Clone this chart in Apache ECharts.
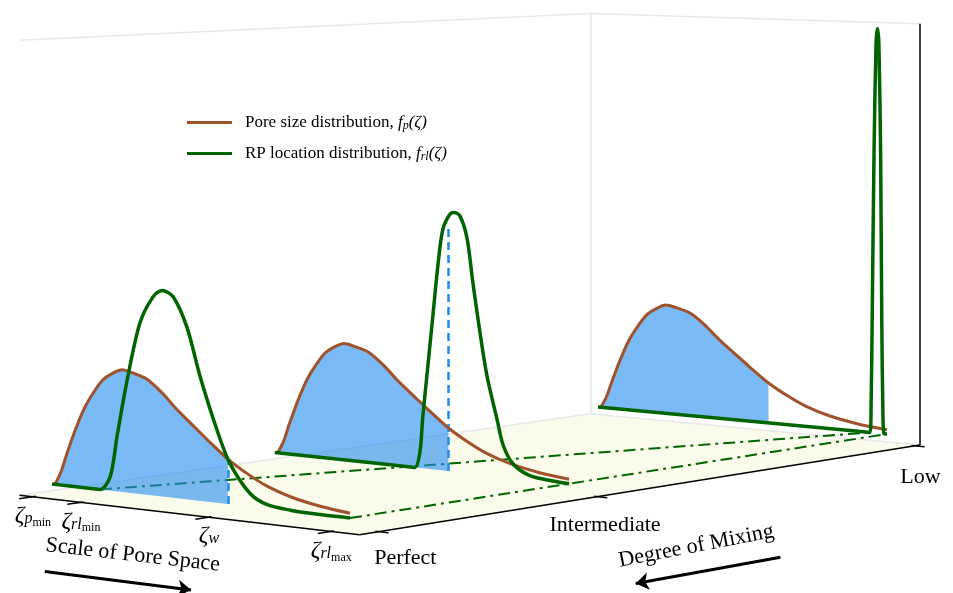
<!doctype html>
<html lang="en">
<head>
<meta charset="utf-8">
<title>pore space mixing schematic</title>
<script src="https://cdn.jsdelivr.net/npm/echarts@6/dist/echarts.min.js"></script>
<style>
  html, body { margin: 0; padding: 0; background: #fff; }
  #chart { width: 953px; height: 593px; }
</style>
</head>
<body>
<div id="chart"></div>
<script>
// ---- data ----
// pore size distribution f_p(zeta), the same curve on every panel
var poreZeta = [0.01, 0.03, 0.05, 0.08, 0.11, 0.14, 0.17, 0.2, 0.235, 0.27, 0.32, 0.37, 0.42, 0.47, 0.52, 0.59, 0.66, 0.72, 0.8, 0.9, 1.0];
var poreF    = [0, 0.13, 0.32, 0.58, 0.8, 0.96, 1.09, 1.16, 1.21, 1.19, 1.14, 1.02, 0.87, 0.74, 0.61, 0.44, 0.31, 0.22, 0.14, 0.08, 0.045];

// RP location distribution f_rl(zeta), one per degree of mixing
var rpZetaPerfect = [0, 0.13, 0.161, 0.195, 0.218, 0.252, 0.295, 0.339, 0.369, 0.406, 0.453, 0.497, 0.554, 0.597, 0.664, 0.72, 0.8, 0.9, 1.0];
var rpFPerfect    = [0, 0, 0, 0.135, 0.54, 1.11, 1.69, 1.96, 2.03, 1.98, 1.69, 1.22, 0.71, 0.40, 0.13, 0.04, 0.01, 0, 0];
var rpZetaInter = [0, 0.44, 0.476, 0.493, 0.503, 0.52, 0.537, 0.554, 0.571, 0.595, 0.609, 0.629, 0.653, 0.673, 0.697, 0.721, 0.755, 0.776, 0.81, 0.867, 0.945, 1.0];
var rpFInter    = [0, 0, 0, 0.16, 0.53, 1.05, 1.57, 2.09, 2.47, 2.63, 2.65, 2.62, 2.40, 1.95, 1.45, 1.01, 0.58, 0.32, 0.14, 0.04, 0.01, 0];
var rpZetaLow = [0, 0.9, 0.941, 0.945, 0.949, 0.955, 0.962, 0.967, 0.972, 0.978, 0.982, 0.986, 0.99, 1.0];
var rpFLow    = [0, 0, 0, 0.3, 1.3, 3.0, 4.2, 4.38, 4.2, 3.0, 1.2, 0.2, 0, 0];

var mixingLevels = [0, 0.408, 1];
var mixingLabels = ['Perfect', 'Intermediate', 'Low'];
var rlMin = [0.161, 0.476, 0.941];
var rlMax = [1, 1, 1];
var zetaW = 0.59;
var dashTop = [0.42, 2.48, 0];

var zetaTicks = [0, 0.161, 0.59, 1];
var zetaTickLabels = ['{z|ζ}{s|p}{ss|min}', '{z|ζ}{s|rl}{ss|min}', '{z|ζ}{s|w}', '{z|ζ}{s|rl}{ss|max}'];

// ---- layout ----
var SERIF = '"Liberation Serif", "DejaVu Serif", serif';
var BROWN = '#a0522d', GREEN = '#006400', FILL = 'rgba(33,140,240,0.6)';
var Z_LO = -0.045, Z_HI = 1.095, M_LO = -0.035, M_HI = 1.01, F_LO = -0.1, F_HI = 4.44;
var mixLabelOffset = [[27, 27], [8, 29], [6, 31]];

// oblique view: zeta runs along the front, mixing goes back, f goes up
function proj(z, m, f) {
    var ux = 298 - 9 * m, uy = 34 - 7 * m;
    var s = 1 + 0.04 * z - 0.115 * m;
    return [52 + 546 * m + ux * z, 484 - 77 * m + uy * z - 100 * s * f];
}

function polygonSeries(pts, style) {
    return {
        type: 'custom', silent: true, data: [[0, 0]],
        renderItem: function (params, api) {
            return {type: 'polygon', shape: {points: pts.map(function (p) { return api.coord(p); })}, style: style};
        }
    };
}

function segSeries(segs, color, width, type, symbol) {
    return {
        type: 'lines', coordinateSystem: 'cartesian2d', silent: true,
        data: segs.map(function (s) { return {coords: s}; }),
        symbol: symbol || 'none', symbolSize: 13,
        lineStyle: {color: color, width: width, type: type || 'solid', opacity: 1}
    };
}

function curve(zs, fs, m, color, width, name) {
    return {
        type: 'line', name: name, color: color, silent: true,
        data: zs.map(function (z, i) { return proj(z, m, fs[i]); }),
        symbol: 'none', smooth: 0.3,
        lineStyle: {color: color, width: width}
    };
}

var series = [];

// floor
series.push(polygonSeries([proj(Z_LO, M_LO, F_LO), proj(Z_HI, M_LO, F_LO), proj(Z_HI, M_HI, F_LO), proj(Z_LO, M_HI, F_LO)],
    {fill: '#fbfbec', stroke: null}));

// pane edges
series.push(segSeries([
    [proj(Z_LO, M_LO, F_HI), proj(Z_LO, M_HI, F_HI)],
    [proj(Z_LO, M_HI, F_LO), proj(Z_LO, M_HI, F_HI)],
    [proj(Z_LO, M_HI, F_HI), proj(Z_HI, M_HI, F_HI)],
    [proj(Z_LO, M_LO, F_LO), proj(Z_LO, M_HI, F_LO)],
    [proj(Z_LO, M_HI, F_LO), proj(Z_HI, M_HI, F_LO)]
], '#e8e8e8', 1.5));

// dash-dot lines joining rl_min and rl_max across the panels
series.push(segSeries([
    [proj(rlMin[0], mixingLevels[0], 0), proj(rlMin[2], mixingLevels[2], 0)],
    [proj(rlMax[0], mixingLevels[0], 0), proj(rlMax[2], mixingLevels[2], 0)]
], GREEN, 2, [12, 5, 3, 5]));

var rpZ = [rpZetaPerfect, rpZetaInter, rpZetaLow];
var rpF = [rpFPerfect, rpFInter, rpFLow];

// panels back to front
[2, 1, 0].forEach(function (k) {
    var m = mixingLevels[k];
    var fillPts = [proj(0, m, 0)];
    poreZeta.forEach(function (z, i) { if (z <= zetaW) fillPts.push(proj(z, m, poreF[i])); });
    fillPts.push(proj(zetaW, m, 0));
    series.push(polygonSeries(fillPts, {fill: FILL, stroke: null}));
    series.push(curve(poreZeta, poreF, m, BROWN, 3, 'Pore size distribution'));
    series.push(curve(rpZ[k], rpF[k], m, GREEN, 3.5, 'RP location distribution'));
    if (dashTop[k] > 0) {
        series.push(segSeries([[proj(zetaW, m, 0), proj(zetaW, m, dashTop[k])]], '#1e8cf0', 2.5, [8, 5]));
    }
});

// axes
series.push(segSeries([
    [proj(Z_LO, M_LO, F_LO), proj(Z_HI, M_LO, F_LO)],
    [proj(Z_HI, M_LO, F_LO), proj(Z_HI, M_HI, F_LO)],
    [proj(Z_HI, M_HI, F_LO), proj(Z_HI, M_HI, F_HI)]
], '#000', 1.5));

// ticks
var tickSegs = zetaTicks.map(function (z) { return [proj(z, M_LO + 0.005, F_LO), proj(z, M_LO - 0.025, F_LO)]; });
mixingLevels.forEach(function (m) { tickSegs.push([proj(Z_HI - 0.01, m, F_LO), proj(Z_HI + 0.035, m, F_LO)]); });
series.push(segSeries(tickSegs, '#000', 1.5));

// direction arrows
series.push(segSeries([[proj(0.04, M_LO, -0.83), proj(0.53, M_LO, -0.83)]], '#000', 3, 'solid', ['none', 'arrow']));
series.push(segSeries([[proj(Z_HI, 0.75, -1.04), proj(Z_HI, 0.48, -1.04)]], '#000', 3, 'solid', ['none', 'arrow']));

// text labels
var labelItems = [];
zetaTicks.forEach(function (z, i) {
    labelItems.push({value: proj(z, M_LO, F_LO), label: {formatter: zetaTickLabels[i], offset: [0, 19]}});
});
mixingLevels.forEach(function (m, i) {
    labelItems.push({value: proj(Z_HI, m, F_LO), label: {formatter: '{t|' + mixingLabels[i] + '}', offset: mixLabelOffset[i]}});
});
labelItems.push({value: proj(0.335, M_LO, -0.56), label: {formatter: '{t|Scale of Pore Space}', rotate: -6.5}});
labelItems.push({value: proj(Z_HI, 0.593, -0.77), label: {formatter: '{t|Degree of Mixing}', rotate: 11}});

series.push({
    type: 'scatter', silent: true, symbolSize: 0, itemStyle: {color: '#000', opacity: 1},
    data: labelItems,
    label: {
        show: true, position: 'inside', color: '#000', opacity: 1, textBorderWidth: 0,
        rich: {
            t: {fontFamily: SERIF, fontSize: 22, color: '#000', textBorderWidth: 0},
            z: {fontFamily: SERIF, fontSize: 24, fontStyle: 'italic', color: '#000', textBorderWidth: 0},
            s: {fontFamily: SERIF, fontSize: 16, fontStyle: 'italic', color: '#000', textBorderWidth: 0, padding: [6, 0, 0, 0]},
            ss: {fontFamily: SERIF, fontSize: 12, color: '#000', textBorderWidth: 0, padding: [14, 0, 0, 0]}
        }
    }
});

var chart = echarts.init(document.getElementById('chart'));
chart.setOption({
    animation: false,
    backgroundColor: '#fff',
    grid: {left: 0, right: 0, top: 0, bottom: 0},
    xAxis: {type: 'value', min: 0, max: 953, show: false},
    yAxis: {type: 'value', min: 0, max: 593, inverse: true, show: false},
    legend: {
        left: 187, top: 114, padding: 0, orient: 'vertical', itemGap: 13, itemWidth: 45, itemHeight: 3, icon: 'rect',
        selectedMode: false,
        data: ['Pore size distribution', 'RP location distribution'],
        formatter: function (name) {
            if (name === 'Pore size distribution') return '{n|Pore size distribution, }{i|f}{s|p}{i|(ζ)}';
            return '{n|RP location distribution, }{i|f}{s|rl}{i|(ζ)}';
        },
        textStyle: {
            rich: {
                n: {fontFamily: SERIF, fontSize: 17, color: '#000', padding: [0, 0, 0, 8]},
                i: {fontFamily: SERIF, fontSize: 17, fontStyle: 'italic', color: '#000'},
                s: {fontFamily: SERIF, fontSize: 12, fontStyle: 'italic', color: '#000', padding: [7, 0, 0, 0]}
            }
        }
    },
    series: series
});
</script>
</body>
</html>
